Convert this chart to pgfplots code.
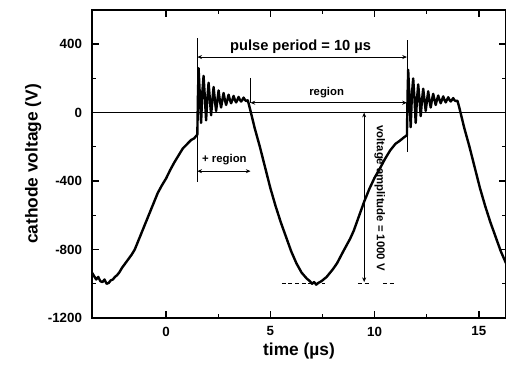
\documentclass[border=0pt]{standalone}
\usepackage{pgfplots}
\pgfplotsset{compat=1.18}
\usepackage{fontspec}
\setmainfont{Liberation Sans}
\usetikzlibrary{arrows.meta}
\begin{document}
\begin{tikzpicture}
\begin{axis}[
  width=310.5pt, height=231pt, scale only axis,
  xmin=-3.55, xmax=16.3, ymin=-1200, ymax=600,
  xtick={0,5,10,15}, ytick={-1200,-800,-400,0,400},
  minor x tick num=1, minor y tick num=1,
  tick align=inside, tick pos=both,
  major tick length=5pt, minor tick length=3pt,
  axis line style={line width=1pt},
  major tick style={line width=1.2pt, black},
  minor tick style={line width=0.9pt, black},
  ticklabel style={font=\bfseries\fontsize{10}{12}\selectfont},
  xticklabel style={yshift=-3pt, /pgf/number format/assume math mode=true},
  yticklabel style={xshift=-4pt, /pgf/number format/assume math mode=true, /pgf/number format/1000 sep={}},
  xlabel={\bfseries time (µs)}, ylabel={\bfseries cathode voltage (V)},
  label style={font=\bfseries\fontsize{13}{15}\selectfont},
  xlabel style={yshift=2pt},
  ylabel style={yshift=-2pt},
]
\draw[line width=0.6pt] (axis cs:-3.55,0) -- (axis cs:16.3,0);
% explicit major tick marks
\pgfplotsinvokeforeach{-800,-400,400}{
  \draw[line width=1.2pt] (axis cs:-3.55,#1) -- ([xshift=5pt]axis cs:-3.55,#1);
  \draw[line width=1.2pt] (axis cs:16.3,#1) -- ([xshift=-5pt]axis cs:16.3,#1);
}
\pgfplotsinvokeforeach{0,5,10,15}{
  \draw[line width=1.2pt] (axis cs:#1,-1200) -- ([yshift=5pt]axis cs:#1,-1200);
  \draw[line width=1.2pt] (axis cs:#1,600) -- ([yshift=-5pt]axis cs:#1,600);
}
\addplot[black, line width=1.8pt, line join=round] coordinates {
(-3.55,-935) (-3.45,-955) (-3.35,-975) (-3.25,-960) (-3.15,-985) (-3.05,-990) (-2.95,-975) (-2.85,-1000) (-2.75,-995) (-2.65,-980) (-2.55,-975) (-2.45,-960) (-2.35,-950) (-2.25,-935) (-2.1,-905) (-1.95,-880) (-1.8,-855) (-1.65,-830) (-1.5,-800) (-1.35,-755) (-1.2,-710) (-1.0,-650) (-0.8,-590) (-0.6,-530) (-0.4,-470) (-0.2,-425) (0.0,-385) (0.2,-335) (0.4,-290) (0.6,-250) (0.8,-210) (1.0,-185) (1.2,-160) (1.35,-150) (1.5,-128)
(1.53,100) (1.56,260) (1.62,100) (1.68,-60) (1.74,120) (1.80,215) (1.86,90) (1.92,-45) (1.98,80) (2.04,175) (2.10,80) (2.16,-15) (2.22,70) (2.28,150) (2.34,75) (2.40,10) (2.46,70) (2.52,130) (2.58,70) (2.64,30) (2.70,75) (2.76,115) (2.82,75) (2.88,45) (2.94,75) (3.00,105) (3.06,75) (3.12,55) (3.18,75) (3.24,98) (3.30,75) (3.36,60) (3.42,75) (3.48,92) (3.54,75) (3.60,65) (3.66,75) (3.72,88) (3.78,75) (3.84,68) (3.92,72)
(4.00,35) (4.25,-90) (4.5,-200) (4.75,-320) (5.0,-440) (5.25,-545) (5.5,-640) (5.75,-725) (6.0,-810) (6.25,-880) (6.5,-935) (6.75,-970) (6.9,-985) (7.0,-1000) (7.1,-990) (7.2,-1005) (7.3,-995) (7.45,-985) (7.7,-960) (8.0,-915) (8.2,-880) (8.5,-810) (8.83,-736) (9.0,-690) (9.25,-605) (9.5,-520) (9.75,-445) (10.0,-380) (10.26,-325) (10.5,-270) (10.75,-220) (11.0,-182) (11.2,-165) (11.4,-145) (11.55,-132)
(11.58,100) (11.61,250) (11.67,90) (11.73,-85) (11.79,110) (11.85,200) (11.91,85) (11.97,-60) (12.03,75) (12.09,165) (12.15,80) (12.21,-20) (12.27,70) (12.33,140) (12.39,75) (12.45,10) (12.51,70) (12.57,125) (12.63,70) (12.69,30) (12.75,75) (12.81,110) (12.87,75) (12.93,45) (12.99,75) (13.05,100) (13.11,75) (13.17,55) (13.23,75) (13.29,95) (13.35,75) (13.41,60) (13.47,75) (13.53,90) (13.59,75) (13.65,65) (13.71,75) (13.77,85) (13.83,72) (13.89,68) (13.97,70)
(14.05,35) (14.3,-90) (14.55,-200) (14.8,-320) (15.05,-440) (15.3,-545) (15.55,-640) (15.8,-725) (16.05,-810) (16.3,-880)
};
% annotation lines
\draw[line width=0.6pt] (axis cs:1.5,435) -- (axis cs:1.5,-406);
\draw[line width=0.6pt] (axis cs:11.55,423) -- (axis cs:11.55,-232);
\draw[line width=0.6pt] (axis cs:4.05,203) -- (axis cs:4.05,58);
\draw[line width=0.6pt, {Stealth[length=3.5pt,width=3pt]}-{Stealth[length=3.5pt,width=3pt]}] (axis cs:1.5,325) -- (axis cs:11.55,325);
\draw[line width=0.6pt, {Stealth[length=3.5pt,width=3pt]}-{Stealth[length=3.5pt,width=3pt]}] (axis cs:4.05,58) -- (axis cs:11.55,58);
\draw[line width=0.6pt, {Stealth[length=3.5pt,width=3pt]}-{Stealth[length=3.5pt,width=3pt]}] (axis cs:1.5,-342) -- (axis cs:4.05,-342);
\draw[line width=0.6pt, {Stealth[length=3.5pt,width=3pt]}-{Stealth[length=3.5pt,width=3pt]}] (axis cs:9.5,0) -- (axis cs:9.5,-990);
\draw[line width=0.6pt, dash pattern=on 3pt off 2pt] (axis cs:5.55,-1000) -- (axis cs:7.6,-1000);
\draw[line width=0.6pt, dash pattern=on 3pt off 2pt] (axis cs:9.2,-1000) -- (axis cs:9.75,-1000);
\draw[line width=0.6pt, dash pattern=on 3pt off 2pt] (axis cs:10.4,-1000) -- (axis cs:11.0,-1000);
\node[font=\bfseries\fontsize{11}{13}\selectfont] at (axis cs:6.45,388) {pulse period = 10 µs};
\node[font=\bfseries\fontsize{8.5}{10}\selectfont] at (axis cs:7.7,120) {region};
\node[font=\bfseries\fontsize{8.5}{10}\selectfont] at (axis cs:2.8,-275) {+ region};
\node[font=\bfseries\fontsize{8.5}{10}\selectfont, rotate=-90] at (axis cs:10.25,-500) {voltage amplitude = 1000 V};
\end{axis}
\pgfresetboundingbox
\path ([shift={(-69pt,-38.25pt)}]current axis.south west) rectangle ([shift={(0pt,7.5pt)}]current axis.north east);
\end{tikzpicture}
\end{document}
